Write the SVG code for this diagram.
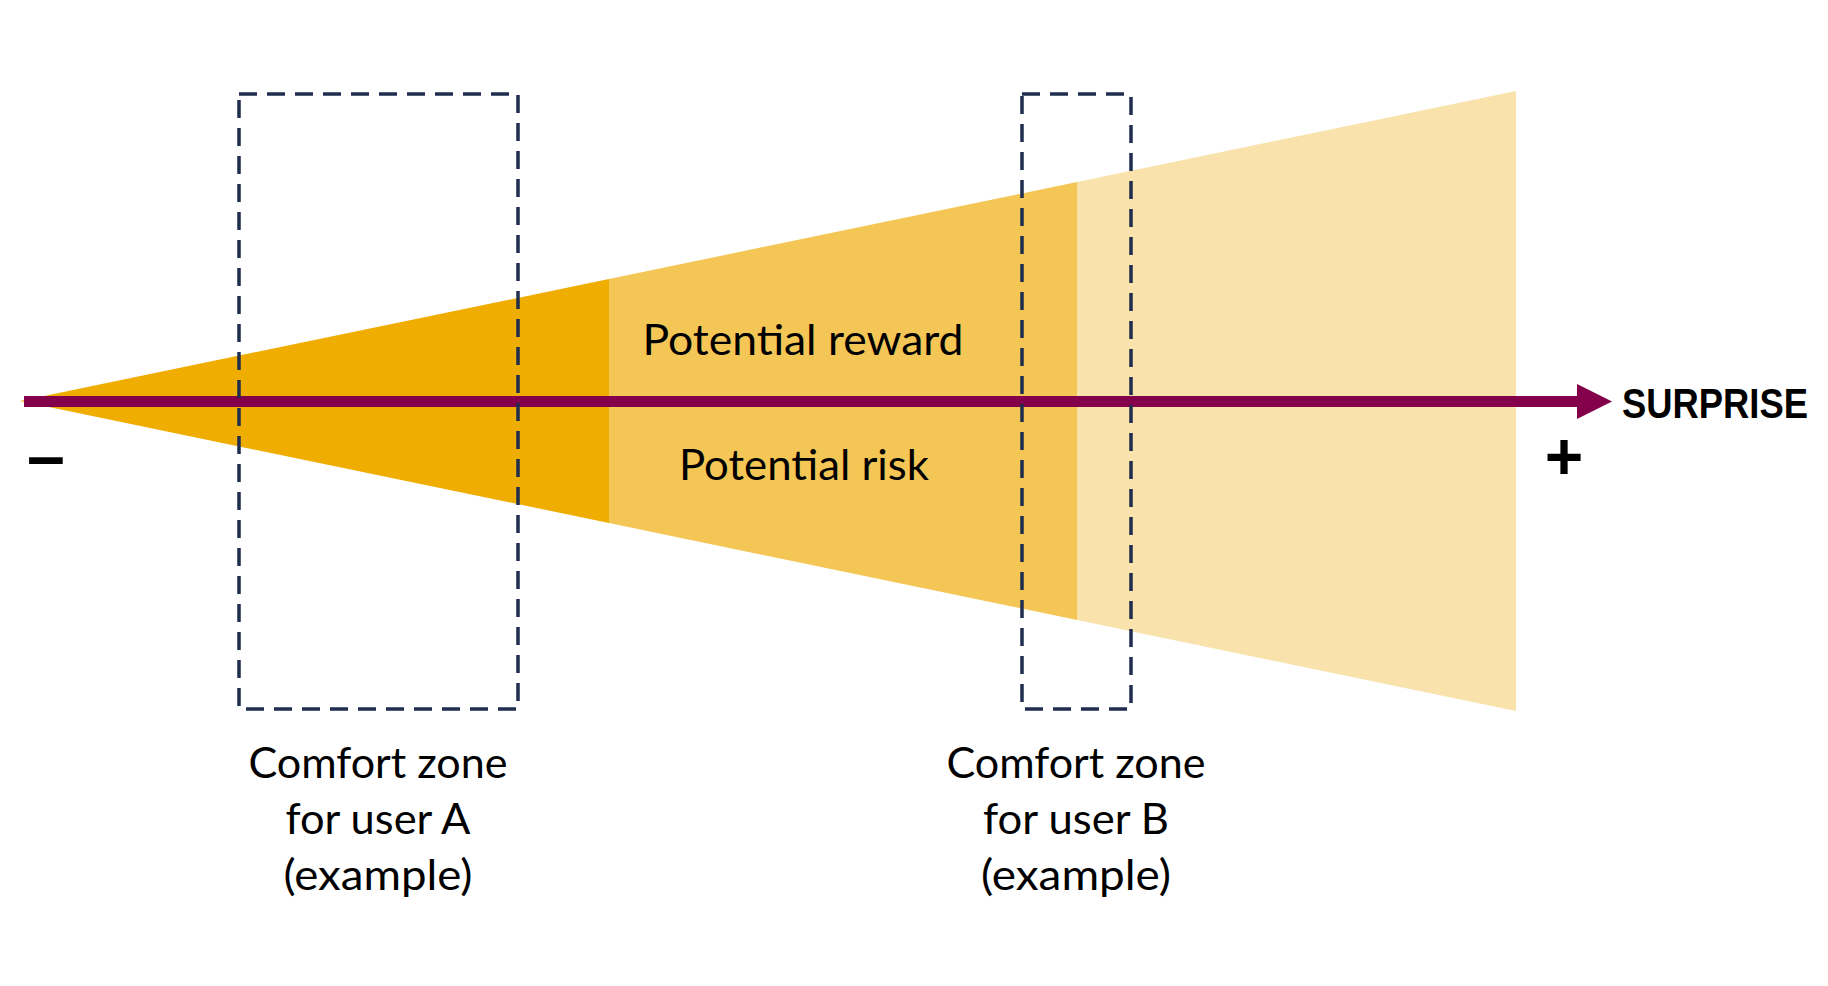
<svg xmlns="http://www.w3.org/2000/svg" width="1828" height="986" viewBox="0 0 1828 986">
<style>
.lbl{font-family:Lato,"Noto Sans","Liberation Sans",sans-serif;font-size:42px;fill:#000;text-anchor:middle}
.zone{fill:none;stroke:#1F2D4F;stroke-width:3.5;stroke-dasharray:18 10}
.sign{font-family:"Liberation Sans",Arial,sans-serif;font-weight:bold;fill:#000;text-anchor:middle}
</style>
<defs>
<marker id="head" markerUnits="userSpaceOnUse" markerWidth="36" markerHeight="36" refX="0" refY="17.5" orient="auto" viewBox="0 0 36 35">
<path d="M0,0 L35,17.5 L0,35 Z" fill="#84004A"/>
</marker>
</defs>
<rect width="1828" height="986" fill="#fff"/>
<g id="cone">
<polygon points="1077,182 1516,91 1516,711 1077,620" fill="#F9E2AB"/>
<polygon points="609,279 1077,182 1077,620 609,523" fill="#F4C655"/>
<polygon points="20,401 609,279 609,523" fill="#EFAD00"/>
</g>
<g id="reward"><text class="lbl" x="803" y="355" textLength="321" lengthAdjust="spacingAndGlyphs">Potential reward</text></g>
<g id="risk"><text class="lbl" x="804" y="480" textLength="250" lengthAdjust="spacingAndGlyphs">Potential risk</text></g>
<g id="connectors">
<line x1="24" y1="401.5" x2="1577" y2="401.5" stroke="#84004A" stroke-width="11" marker-end="url(#head)"/>
</g>
<g id="zoneA">
<rect class="zone" x="239" y="94" width="279" height="615"/>
<text class="lbl" x="378" y="778" textLength="259" lengthAdjust="spacingAndGlyphs">Comfort zone</text>
<text class="lbl" x="378" y="834" textLength="185" lengthAdjust="spacingAndGlyphs">for user A</text>
<text class="lbl" x="378" y="890" textLength="189" lengthAdjust="spacingAndGlyphs">(example)</text>
</g>
<g id="zoneB">
<rect class="zone" x="1022" y="94" width="109" height="615"/>
<text class="lbl" x="1076" y="778" textLength="259" lengthAdjust="spacingAndGlyphs">Comfort zone</text>
<text class="lbl" x="1076" y="834" textLength="186" lengthAdjust="spacingAndGlyphs">for user B</text>
<text class="lbl" x="1076" y="890" textLength="190" lengthAdjust="spacingAndGlyphs">(example)</text>
</g>
<g id="surprise"><text x="1622" y="418" font-family="'Liberation Sans',Arial,sans-serif" font-weight="bold" font-size="42" textLength="186" lengthAdjust="spacingAndGlyphs">SURPRISE</text></g>
<g id="minus"><text class="sign" x="46" y="479" font-size="68">–</text></g>
<g id="plus"><text class="sign" x="1564" y="479" font-size="66">+</text></g>
</svg>
